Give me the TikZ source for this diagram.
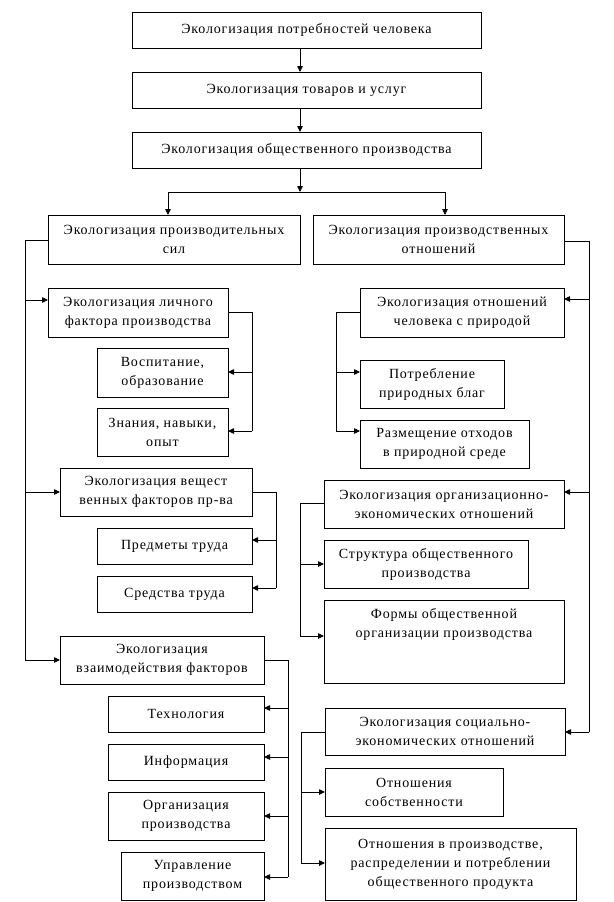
\documentclass[tikz,border=0pt]{standalone}
\usepackage{fontspec}
\setmainfont{Liberation Serif}[LetterSpace=6]
\usetikzlibrary{arrows.meta}
\begin{document}
\begin{tikzpicture}[x=1pt,y=-1pt,
  box/.style={draw, line width=0.8pt, inner sep=0pt, outer sep=0pt, align=center,
    font=\fontsize{14}{19}\selectfont},
  ln/.style={line width=0.8pt},
  arr/.style={line width=0.8pt, -{Triangle[length=6pt,width=5.5pt]}}]
\useasboundingbox (0,0) rectangle (613,902);
% top chain
\node[box, minimum width=349, minimum height=36] (n1) at (306.5,30) {Экологизация потребностей человека};
\node[box, minimum width=349, minimum height=36] (n2) at (306.5,90) {Экологизация товаров и услуг};
\node[box, minimum width=349, minimum height=36] (n3) at (306.5,150) {Экологизация общественного производства};
\node[box, minimum width=252, minimum height=49] (L) at (174,239.5) {Экологизация производительных\\сил};
\node[box, minimum width=251, minimum height=49] (R) at (438.5,239.5) {Экологизация производственных\\отношений};
\coordinate (sp) at (300,192);
\coordinate (sl) at (168,192);
\coordinate (sr) at (445,192);
\draw[arr] ([xshift=-6.5pt]n1.south) -- ([xshift=-6.5pt]n2.north);
\draw[arr] ([xshift=-6.5pt]n2.south) -- ([xshift=-6.5pt]n3.north);
\draw[arr] ([xshift=-6.5pt]n3.south) -- (sp);
\draw[ln] (sl) -- (sr);
\draw[arr] (sl) -- (sl |- L.north);
\draw[arr] (sr) -- (sr |- R.north);
% left column
\node[box, minimum width=180, minimum height=49] (L1) at (138,312.5) {Экологизация личного\\фактора производства};
\node[box, minimum width=131, minimum height=49] (L1a) at (162.5,372.5) {Воспитание,\\образование};
\node[box, minimum width=131, minimum height=48] (L1b) at (162.5,432) {Знания, навыки,\\опыт};
\node[box, minimum width=192, minimum height=48] (L2) at (156,492) {Экологизация вещест\\венных факторов пр-ва};
\node[box, minimum width=155, minimum height=36] (L2a) at (174.5,546) {Предметы труда};
\node[box, minimum width=155, minimum height=36] (L2b) at (174.5,594) {Средства труда};
\node[box, minimum width=204, minimum height=48] (L3) at (162,660) {Экологизация\\взаимодействия факторов};
\node[box, minimum width=156, minimum height=36] (L3a) at (186,714) {Технология};
\node[box, minimum width=156, minimum height=36] (L3b) at (186,762) {Информация};
\node[box, minimum width=156, minimum height=48] (L3c) at (186,816) {Организация\\производства};
\node[box, minimum width=143, minimum height=48] (L3d) at (192.5,876) {Управление\\производством};
% left spine
\coordinate (ls0) at (25,240);
\coordinate (ls1) at (25,300);
\coordinate (ls2) at (25,492);
\coordinate (ls3) at (25,660);
\draw[ln] (L.west |- ls0) -- (ls0) -- (ls3);
\draw[arr] (ls1) -- (ls1 -| L1.west);
\draw[arr] (ls2) -- (ls2 -| L2.west);
\draw[arr] (ls3) -- (ls3 -| L3.west);
% L1 branch
\coordinate (a0) at (252,312);
\coordinate (a1) at (252,372);
\coordinate (a2) at (252,431);
\draw[ln] (a0 -| L1.east) -- (a0) -- (a2);
\draw[arr] (a1) -- (a1 -| L1a.east);
\draw[arr] (a2) -- (a2 -| L1b.east);
% L2 branch
\coordinate (b0) at (276,492);
\coordinate (b1) at (276,540);
\coordinate (b2) at (276,588);
\draw[ln] (b0 -| L2.east) -- (b0) -- (b2);
\draw[arr] (b1) -- (b1 -| L2a.east);
\draw[arr] (b2) -- (b2 -| L2b.east);
% L3 branch
\coordinate (c0) at (288,660);
\coordinate (c1) at (288,708);
\coordinate (c2) at (288,757);
\coordinate (c3) at (288,816);
\coordinate (c4) at (288,877);
\draw[ln] (c0 -| L3.east) -- (c0) -- (c4);
\draw[arr] (c1) -- (c1 -| L3a.east);
\draw[arr] (c2) -- (c2 -| L3b.east);
\draw[arr] (c3) -- (c3 -| L3c.east);
\draw[arr] (c4) -- (c4 -| L3d.east);
% right column
\node[box, minimum width=204, minimum height=49] (R1) at (462,312.5) {Экологизация отношений\\человека с природой};
\node[box, minimum width=144, minimum height=48] (R1a) at (432,384) {Потребление\\природных благ};
\node[box, minimum width=169, minimum height=48] (R1b) at (444.5,444) {Размещение отходов\\в природной среде};
\node[box, minimum width=240, minimum height=48] (R2) at (444,504) {Экологизация организационно-\\экономических отношений};
\node[box, minimum width=204, minimum height=48] (R2a) at (426,564) {Структура общественного\\производства};
\node[box, minimum width=240, minimum height=83] (R2b) at (444,641.5) {Формы общественной\\организации производства\\~\\~};
\node[box, minimum width=240, minimum height=47] (R3) at (445,731.5) {Экологизация социально-\\экономических отношений};
\node[box, minimum width=178, minimum height=48] (R3a) at (414,792) {Отношения\\собственности};
\node[box, minimum width=251, minimum height=72] (R3b) at (450.5,864) {Отношения в производстве,\\распределении и потреблении\\общественного продукта};
% right spine
\coordinate (rs0) at (589,241);
\coordinate (rs1) at (589,299);
\coordinate (rs2) at (589,492);
\coordinate (rs3) at (589,732);
\draw[ln] (R.east |- rs0) -- (rs0) -- (rs3);
\draw[arr] (rs1) -- (rs1 -| R1.east);
\draw[arr] (rs2) -- (rs2 -| R2.east);
\draw[arr] (rs3) -- (rs3 -| R3.east);
% R1 branch
\coordinate (d0) at (336,312);
\coordinate (d1) at (336,372);
\coordinate (d2) at (336,431);
\draw[ln] (d0 -| R1.west) -- (d0) -- (d2);
\draw[arr] (d1) -- (d1 -| R1a.west);
\draw[arr] (d2) -- (d2 -| R1b.west);
% R2 branch
\coordinate (e0) at (300,503);
\coordinate (e1) at (300,564);
\coordinate (e2) at (300,636);
\draw[ln] (e0 -| R2.west) -- (e0) -- (e2);
\draw[arr] (e1) -- (e1 -| R2a.west);
\draw[arr] (e2) -- (e2 -| R2b.west);
% R3 branch
\coordinate (f0) at (301,732);
\coordinate (f1) at (301,792);
\coordinate (f2) at (301,863);
\draw[ln] (f0 -| R3.west) -- (f0) -- (f2);
\draw[arr] (f1) -- (f1 -| R3a.west);
\draw[arr] (f2) -- (f2 -| R3b.west);
\end{tikzpicture}
\end{document}
